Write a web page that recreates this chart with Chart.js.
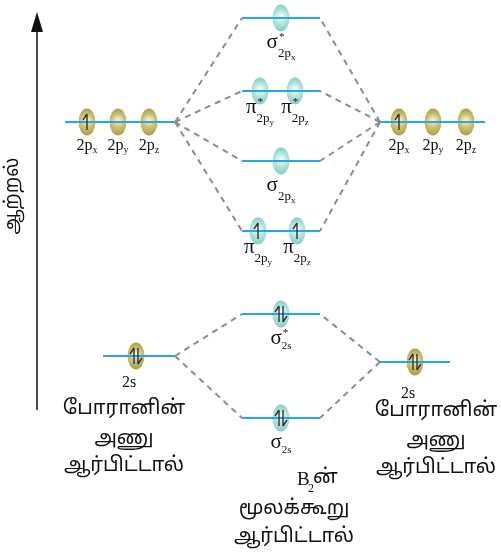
<!DOCTYPE html>
<html>
<head>
<meta charset="utf-8">
<script src="https://cdn.jsdelivr.net/npm/chart.js@4.4.0/dist/chart.umd.min.js"></script>
<style>
    html, body { margin: 0; padding: 0; background: #fff; }
    #wrap { width: 501px; height: 554px; position: relative; }
</style>
</head>
<body>
<div id="wrap"><canvas id="myChart"></canvas></div>
<script>
// energy of each level (arbitrary units, up = higher)
const moEnergy = [536, 463, 393, 323, 240, 136];
const moOrbitalX = [[281], [260, 295], [281], [258, 297], [281], [281]];
const moElectrons = [[0], [0, 0], [0], [1, 1], [2], [2]];
const moSymbol = ['σ', 'π', 'σ', 'π', 'σ', 'σ'];
const moStar = [true, true, false, false, true, false];
const moSubs = [['2px'], ['2py', '2pz'], ['2px'], ['2py', '2pz'], ['2s'], ['2s']];
const moSpan = [242, 320];

const atom2pEnergy = 432;
const left2pX = [87, 118, 149];
const right2pX = [399, 433, 466];
const atom2pElectrons = [1, 0, 0];
const atom2pSubs = ['2px', '2py', '2pz'];
const left2pSpan = [65, 175];
const right2pSpan = [380, 485];

const left2sEnergy = 198;
const right2sEnergy = 192;
const left2sX = 136;
const right2sX = 415;
const left2sSpan = [103, 175];
const right2sSpan = [380, 450];

const atomCaption = ['போரானின்', 'அணு', 'ஆர்பிட்டால்'];
const moleculeCaption = ['ன்', 'மூலக்கூறு', 'ஆர்பிட்டால்'];
const axisTitle = 'ஆற்றல்';

const tamilFont = '"Noto Sans Tamil", "Lohit Tamil", "Latha", "Noto Sans", sans-serif';
const serif = '"Liberation Serif", "DejaVu Serif", serif';

function orbitalImage(edge, mid, centre) {
    let c = document.createElement('canvas');
    c.width = 18; c.height = 28;
    let g = c.getContext('2d');
    let grad = g.createRadialGradient(9, 12, 1, 9, 14, 13);
    grad.addColorStop(0, centre);
    grad.addColorStop(0.5, mid);
    grad.addColorStop(1, edge);
    g.fillStyle = grad;
    g.beginPath();
    g.ellipse(9, 14, 8.5, 13.5, 0, 0, Math.PI * 2);
    g.fill();
    return c;
}
const goldOrbital = orbitalImage('#ae9e48', '#cbbe72', '#f4efcc');
const tealOrbital = orbitalImage('#86cec7', '#b2e2dc', '#f0fbf9');

function segment(x0, y0, x1, y1, dashed) {
    return {
        type: 'line',
        data: [{x: x0, y: y0}, {x: x1, y: y1}],
        borderColor: dashed ? '#8c8c8c' : '#26a9e0',
        borderWidth: dashed ? 2 : 2.2,
        borderDash: dashed ? [6, 5] : [],
        pointRadius: 0,
        fill: false
    };
}

let datasets = [];
// dashed correlation lines
for (let i = 0; i < 4; i++) {
    datasets.push(segment(left2pSpan[1], atom2pEnergy, moSpan[0], moEnergy[i], true));
    datasets.push(segment(right2pSpan[0], atom2pEnergy, moSpan[1], moEnergy[i], true));
}
for (let i = 4; i < 6; i++) {
    datasets.push(segment(left2sSpan[1], left2sEnergy, moSpan[0], moEnergy[i], true));
    datasets.push(segment(right2sSpan[0], right2sEnergy, moSpan[1], moEnergy[i], true));
}
// energy levels
for (let i = 0; i < moEnergy.length; i++) datasets.push(segment(moSpan[0], moEnergy[i], moSpan[1], moEnergy[i], false));
datasets.push(segment(left2pSpan[0], atom2pEnergy, left2pSpan[1], atom2pEnergy, false));
datasets.push(segment(right2pSpan[0], atom2pEnergy, right2pSpan[1], atom2pEnergy, false));
datasets.push(segment(left2sSpan[0], left2sEnergy, left2sSpan[1], left2sEnergy, false));
datasets.push(segment(right2sSpan[0], right2sEnergy, right2sSpan[1], right2sEnergy, false));

// orbitals
let atomPts = [];
left2pX.forEach((x, k) => atomPts.push({x: x, y: atom2pEnergy, e: atom2pElectrons[k], sub: atom2pSubs[k]}));
right2pX.forEach((x, k) => atomPts.push({x: x, y: atom2pEnergy, e: atom2pElectrons[k], sub: atom2pSubs[k]}));
atomPts.push({x: left2sX, y: left2sEnergy, e: 2, sub: '2s', off: 31});
atomPts.push({x: right2sX, y: right2sEnergy, e: 2, sub: '2s', off: 36});

let moPts = [];
moEnergy.forEach((en, i) => {
    moOrbitalX[i].forEach((x, k) => moPts.push({x: x, y: en, e: moElectrons[i][k], sym: moSymbol[i], star: moStar[i], sub: moSubs[i][k]}));
});

datasets.push({type: 'scatter', data: atomPts, pointStyle: goldOrbital, pointRadius: 9, kind: 'orb'});
datasets.push({type: 'scatter', data: moPts, pointStyle: tealOrbital, pointRadius: 9, kind: 'orb'});

function halfArrow(ctx, x, top, bot, up) {
    ctx.beginPath();
    ctx.moveTo(x, top);
    ctx.lineTo(x, bot);
    if (up) { ctx.moveTo(x, top); ctx.lineTo(x - 4, top + 6); }
    else { ctx.moveTo(x, bot); ctx.lineTo(x + 4, bot - 6); }
    ctx.stroke();
}

function drawParts(ctx, cx, base, parts) {
    let w = 0;
    parts.forEach(p => { ctx.font = p.font; p.w = ctx.measureText(p.t).width; if (!p.stack) w += p.w; });
    let x = cx - w / 2;
    ctx.textAlign = 'left';
    ctx.textBaseline = 'alphabetic';
    parts.forEach(p => {
        ctx.font = p.font;
        ctx.fillText(p.t, x + (p.dx || 0), base + (p.dy || 0));
        if (!p.stack) x += p.w;
    });
}

const diagramPlugin = {
    id: 'diagram',
    afterDatasetsDraw(chart) {
        const ctx = chart.ctx;
        const xs = chart.scales.x, ys = chart.scales.y;
        ctx.save();
        ctx.fillStyle = '#222';
        ctx.strokeStyle = '#333';
        ctx.lineWidth = 1.4;

        // electrons
        chart.data.datasets.forEach((ds, di) => {
            if (ds.kind !== 'orb') return;
            chart.getDatasetMeta(di).data.forEach((el, j) => {
                let p = ds.data[j];
                if (p.e === 1) halfArrow(ctx, el.x, el.y - 8, el.y + 8, true);
                if (p.e === 2) {
                    halfArrow(ctx, el.x - 2, el.y - 8, el.y + 8, true);
                    halfArrow(ctx, el.x + 2, el.y - 8, el.y + 8, false);
                }
            });
        });

        // labels under the atomic orbitals
        ctx.fillStyle = '#111';
        atomPts.forEach(p => {
            let cx = xs.getPixelForValue(p.x);
            let y = ys.getPixelForValue(p.y);
            if (p.sub.length === 3) {
                drawParts(ctx, cx, y + 28, [
                    {t: p.sub.slice(0, 2), font: '16px ' + serif},
                    {t: p.sub[2], font: '10px ' + serif, dy: 3}
                ]);
            } else {
                drawParts(ctx, cx - 7, y + p.off, [{t: '2s', font: '16px ' + serif}]);
            }
        });

        // labels under the molecular orbitals
        moPts.forEach(p => {
            let cx = xs.getPixelForValue(p.x);
            let y = ys.getPixelForValue(p.y);
            let parts = [{t: p.sym, font: '21px ' + serif}];
            if (p.star) parts.push({t: '*', font: '11px ' + serif, dy: -8, dx: 1, stack: true});
            if (p.sub.length === 3) {
                parts.push({t: '2p', font: '13px ' + serif, dy: 9});
                parts.push({t: p.sub[2], font: '9px ' + serif, dy: 12});
            } else {
                parts.push({t: '2s', font: '11px ' + serif, dy: 5});
            }
            drawParts(ctx, cx, y + (p.sym === 'π' ? 22 : 30), parts);
        });

        // captions
        ctx.textAlign = 'center';
        ctx.textBaseline = 'middle';
        ctx.font = '20px ' + tamilFont;
        const capLinesL = [410, 440, 467];
        const capLinesR = [412, 442, 469];
        atomCaption.forEach((t, k) => {
            ctx.fillText(t, xs.getPixelForValue(124), ys.getPixelForValue(554 - capLinesL[k]));
            ctx.fillText(t, xs.getPixelForValue(436), ys.getPixelForValue(554 - capLinesR[k]));
        });
        const molLines = [479, 510, 538];
        moleculeCaption.forEach((t, k) => {
            if (k === 0) {
                let y = ys.getPixelForValue(554 - molLines[0]);
                ctx.textAlign = 'left';
                ctx.font = '19px ' + serif;
                ctx.fillText('B', xs.getPixelForValue(297), y + 1);
                ctx.font = '12px ' + serif;
                ctx.fillText('2', xs.getPixelForValue(308), y + 10);
                ctx.font = '20px ' + tamilFont;
                ctx.fillText(t, xs.getPixelForValue(313), y);
                ctx.textAlign = 'center';
            } else {
                ctx.fillText(t, xs.getPixelForValue(294), ys.getPixelForValue(554 - molLines[k]));
            }
        });

        // energy axis arrow
        let ax = xs.getPixelForValue(37);
        let yb = ys.getPixelForValue(144), yt = ys.getPixelForValue(542);
        ctx.strokeStyle = '#222';
        ctx.lineWidth = 1.6;
        ctx.beginPath();
        ctx.moveTo(ax, yb);
        ctx.lineTo(ax, yt + 16);
        ctx.stroke();
        ctx.beginPath();
        ctx.moveTo(ax, yt);
        ctx.lineTo(ax - 6, yt + 20);
        ctx.lineTo(ax + 6, yt + 20);
        ctx.closePath();
        ctx.fill();

        ctx.save();
        ctx.translate(xs.getPixelForValue(14), ys.getPixelForValue(358));
        ctx.rotate(-Math.PI / 2);
        ctx.font = '19px ' + tamilFont;
        ctx.textAlign = 'center';
        ctx.textBaseline = 'middle';
        ctx.fillText(axisTitle, 0, 0);
        ctx.restore();

        ctx.restore();
    }
};

const config = {
    type: 'scatter',
    data: {datasets: datasets},
    options: {
        responsive: true,
        maintainAspectRatio: false,
        animation: false,
        events: [],
        layout: {padding: 0, autoPadding: false},
        plugins: {legend: {display: false}, tooltip: {enabled: false}},
        scales: {
            x: {type: 'linear', min: 0, max: 501, display: false},
            y: {type: 'linear', min: 0, max: 554, display: false}
        }
    },
    plugins: [diagramPlugin]
};

const myChart = new Chart(document.getElementById('myChart'), config);
</script>
</body>
</html>
